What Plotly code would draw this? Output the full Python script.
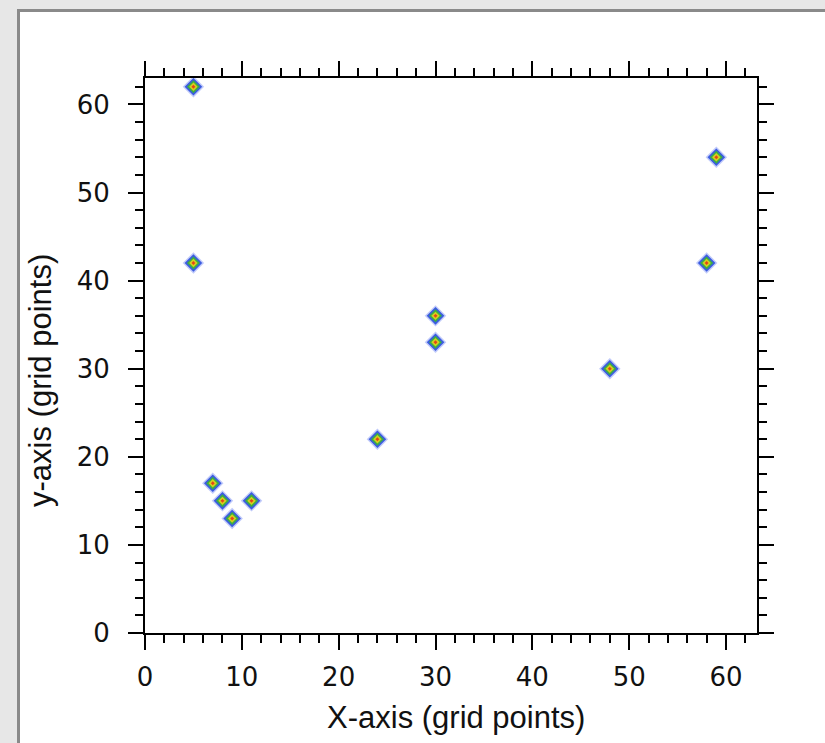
import plotly.graph_objects as go

# Data
x_vals = [5, 5, 7, 8, 9, 11, 24, 30, 30, 48, 58, 59]
y_vals = [62, 42, 17, 15, 13, 15, 22, 36, 33, 30, 42, 54]

x_title = "X-axis (grid points)"
y_title = "y-axis (grid points)"
tick_vals = [0, 10, 20, 30, 40, 50, 60]
tick_text = ["0", "10", "20", "30", "40", "50", "60"]

W, H = 825, 743
L, R, T, B = 145, 68, 78, 110
pw, ph = W - L - R, H - T - B

fig = go.Figure()

# layered diamond markers to mimic the blurred colour-filled marker
layers = [
    (16.5, "rgba(130,150,245,0.5)"),
    (13.5, "#3a5be0"),
    (10, "#3cae44"),
    (6.5, "#d8cf1c"),
    (3, "#e2461a"),
]
for size, color in layers:
    fig.add_trace(go.Scatter(
        x=x_vals, y=y_vals, mode="markers",
        marker=dict(symbol="diamond", size=size, color=color, line=dict(width=0)),
        hoverinfo="skip", showlegend=False,
    ))

def px2paper_x(px):
    return (px - L) / pw

def px2paper_y(py):
    return (H - B - py) / ph

# white panel with gray frame on gray page background
fig.add_shape(type="rect", xref="paper", yref="paper",
              x0=px2paper_x(18.5), x1=px2paper_x(W + 20),
              y0=px2paper_y(H + 20), y1=px2paper_y(10.5),
              fillcolor="white", line=dict(color="#8a8a8a", width=3), layer="below")

title_font = dict(family="Liberation Sans", size=31, color="#111111")
fig.add_annotation(text=x_title, xref="paper", yref="paper",
                   x=px2paper_x(456), y=px2paper_y(717),
                   xanchor="center", yanchor="middle", showarrow=False, font=title_font)
fig.add_annotation(text=y_title, xref="paper", yref="paper",
                   x=px2paper_x(40), y=px2paper_y(381), textangle=-90,
                   xanchor="center", yanchor="middle", showarrow=False, font=title_font)

axis_common = dict(
    showline=True, linecolor="black", linewidth=2, mirror="ticks",
    ticks="outside", ticklen=15, tickwidth=2, tickcolor="black",
    showgrid=False, zeroline=False,
    tickfont=dict(family="DejaVu Sans", size=26, color="#111111"),
    minor=dict(dtick=2, ticks="outside", ticklen=8, tickwidth=1.5, tickcolor="black"),
    tickmode="array", tickvals=tick_vals, ticktext=tick_text,
)

fig.update_layout(
    width=W, height=H,
    margin=dict(l=L, r=R, t=T, b=B, autoexpand=False),
    paper_bgcolor="#e7e7e7",
    plot_bgcolor="rgba(0,0,0,0)",
    showlegend=False,
    xaxis=dict(range=[0, 63.2], ticklabelstandoff=5, **axis_common),
    yaxis=dict(range=[0, 63], ticklabelstandoff=13, **axis_common),
)

fig.write_html("out.html")
